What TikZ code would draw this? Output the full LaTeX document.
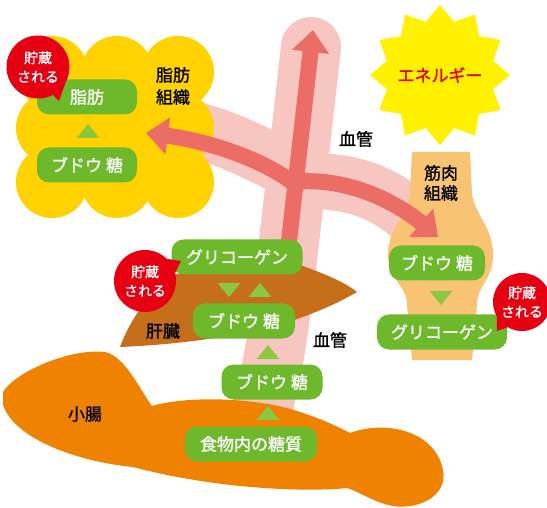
\documentclass[tikz,border=0pt]{standalone}
\usepackage{fontspec}
\setmainfont{Noto Sans CJK JP}
\newfontfamily\medfont{Noto Sans CJK JP}[FakeBold=1.2]
\usetikzlibrary{arrows.meta}

\definecolor{fatyellow}{HTML}{FFD200}
\definecolor{boxgreen}{HTML}{6EB92B}
\definecolor{trigreen}{HTML}{8DC63F}
\definecolor{storered}{HTML}{E60012}
\definecolor{vesselpink}{HTML}{F7C6C0}
\definecolor{flowred}{HTML}{EC6D66}
\definecolor{staryellow}{HTML}{FFF100}
\definecolor{muscleorange}{HTML}{F8C373}
\definecolor{liverbrown}{HTML}{C56F1B}
\definecolor{gutorange}{HTML}{EF8200}

\begin{document}
\begin{tikzpicture}[x=1pt,y=-1pt,
  gbox/.style={rounded corners=12pt, fill=boxgreen, text=white, inner sep=0pt,
    minimum height=35pt, font=\medfont\fontsize{17}{20}\selectfont},
  bubble/.style={circle, fill=storered, text=white, inner sep=0pt, align=center,
    font=\medfont\fontsize{14}{19}\selectfont},
  lbl/.style={align=center, font=\medfont\fontsize{17}{21}\selectfont},
  vessel/.style={draw=vesselpink, line width=60pt},
  flow/.style={draw=flowred, line width=16pt},
  flowtip/.style={-{Triangle[width=36pt,length=22pt]}},
  uptri/.pic={\fill[trigreen] (-11.5,7) -- (11.5,7) -- (0,-7) -- cycle;},
  downtri/.pic={\fill[trigreen] (-11.5,-7) -- (11.5,-7) -- (0,7) -- cycle;},
]
\useasboundingbox (0,0) rectangle (547,508);

% blood vessels
\draw[vessel, line cap=round] plot[smooth] coordinates {(311,47) (288,250) (275,350) (258,430)};
\draw[vessel, line width=56pt] (175,125) .. controls (250,140) and (290,178) .. (330,182)
  .. controls (380,186) and (420,215) .. (448,262);

% adipose tissue
\fill[fatyellow] (52,72) rectangle (178,182);
\foreach \cx in {52,117,178}
  \foreach \cy in {72,128,182}
    \fill[fatyellow] (\cx,\cy) circle[radius=36pt];

% muscle tissue
\fill[muscleorange] (412,152) -- (470,152) -- (472,195)
  .. controls (478,220) and (493,228) .. (493,255)
  .. controls (493,280) and (477,285) .. (477,305) -- (472,360) -- (412,360) -- (407,305)
  .. controls (407,285) and (388,280) .. (388,255)
  .. controls (388,228) and (405,220) .. (410,195) -- cycle;

% liver
\fill[liverbrown] (120,347) .. controls (130,320) and (150,290) .. (175,274) -- (300,265)
  .. controls (320,272) and (345,282) .. (357,292)
  .. controls (335,305) and (310,315) .. (280,325)
  .. controls (230,338) and (170,345) .. (120,347) -- cycle;

% small intestine
\fill[gutorange] (3,392) .. controls (15,372) and (70,348) .. (105,352)
  .. controls (125,356) and (140,390) .. (152,406)
  .. controls (190,395) and (260,398) .. (300,412)
  .. controls (325,420) and (340,428) .. (350,433)
  .. controls (385,420) and (435,430) .. (443,470)
  .. controls (448,495) and (420,510) .. (393,506)
  .. controls (375,503) and (360,492) .. (347,488)
  .. controls (310,492) and (220,490) .. (133,467)
  .. controls (80,462) and (15,440) .. (3,405) -- cycle;

% glucose flow
\draw[flow, flowtip] (288,250) -- (313,30);
\draw[flow, flowtip] (292,182) .. controls (255,155) and (200,140) .. (146,133);
\draw[flow, flowtip] (292,182) .. controls (350,176) and (400,205) .. (438,237);

% energy burst
\begin{scope}[shift={(440,75)}]
  \fill[staryellow] (90:70) foreach \k in {1,...,12} { -- ({90+30*\k-15}:55) -- ({90+30*\k}:70) } -- cycle;
\end{scope}
\node[text=storered, font=\medfont\fontsize{17}{20}\selectfont] (energy) at (440,75) {エネルギー};

% boxes
\node[gbox, minimum width=100pt] (fat) at (87,97) {脂肪};
\node[gbox, minimum width=100pt] (fatglc) at (87,165) {ブドウ 糖};
\node[gbox, minimum width=131pt] (livgly) at (237,257) {グリコーゲン};
\node[gbox, minimum width=102pt] (livglc) at (244,321) {ブドウ 糖};
\node[gbox, minimum width=101pt] (bloodglc) at (272,382) {ブドウ 糖};
\node[gbox, minimum width=132pt] (food) at (251,444) {食物内の糖質};
\node[gbox, minimum width=96pt] (musglc) at (437,263) {ブドウ 糖};
\node[gbox, minimum width=130pt] (musgly) at (442,332) {グリコーゲン};

% conversion marks
\pic at (88,131) {uptri};
\pic at (229,290) {downtri};
\pic at (260,290) {uptri};
\pic at (268,352) {uptri};
\pic at (268,413) {uptri};
\pic at (441,298) {downtri};

% storage bubbles
\node[bubble, minimum size=63pt] (store1) at (38,67) {貯蔵\\される};
\fill[storered] (store1.-30) -- (59,101) -- (store1.-62) -- cycle;
\node[bubble, minimum size=62pt] (store2) at (145,281) {貯蔵\\される};
\fill[storered] (store2.15) -- (181,261) -- (store2.45) -- cycle;
\node[bubble, minimum size=58pt] (store3) at (522,302) {貯蔵\\される};
\fill[storered] (store3.-120) -- (497,331) -- (store3.-150) -- cycle;

% labels
\node[lbl, font=\medfont\fontsize{17}{22}\selectfont] (fatlbl) at (173,86) {脂肪\\組織};
\node[lbl, font=\medfont\fontsize{17}{20}\selectfont] (muslbl) at (441,183) {筋肉\\組織};
\node[lbl] (vessel1) at (356,139) {血管};
\node[lbl] (vessel2) at (330,340) {血管};
\node[lbl] (liverlbl) at (163,331) {肝臓};
\node[lbl] (gutlbl) at (85,414) {小腸};
\end{tikzpicture}
\end{document}
